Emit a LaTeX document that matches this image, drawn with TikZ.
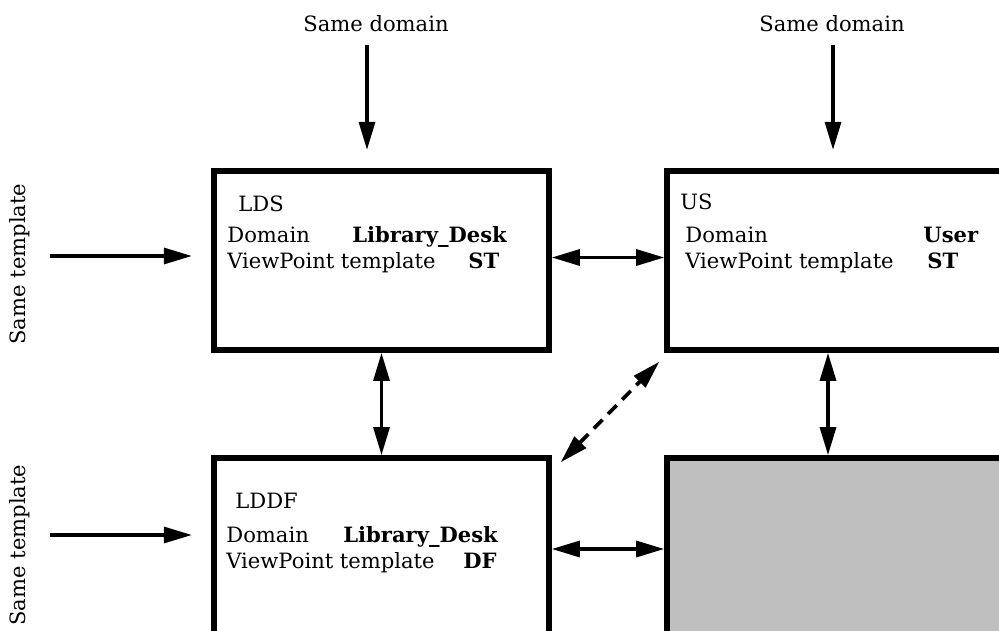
\documentclass[tikz,border=0pt]{standalone}
\usepackage{fontspec}
\setmainfont{DejaVu Serif}
\usetikzlibrary{shapes,arrows.meta,positioning}
\tikzstyle{vpbox} = [rectangle, draw, line width=3.1pt, inner sep=0pt]
\tikzstyle{line} = [draw, line width=2.1pt, -{Triangle[length=16pt,width=9pt]}]
\tikzstyle{dline} = [draw, line width=2.1pt, {Triangle[length=16pt,width=9pt]}-{Triangle[length=16pt,width=9pt]}]
\tikzstyle{txt} = [anchor=base west, inner sep=0pt, font=\fontsize{12}{14}\selectfont]
\tikzstyle{lbl} = [inner sep=2pt, font=\fontsize{12}{14}\selectfont]

\begin{document}
\begin{tikzpicture}[x=0.02cm, y=-0.02cm]
    \clip (0,0) rectangle (999,631);
    % the four viewpoints
    \node [vpbox, minimum width=6.70cm, minimum height=3.58cm] (LDS) at (381.5,260.5) {};
    \node [vpbox, minimum width=6.86cm, minimum height=3.58cm] (US) at (838.5,260.5) {};
    \node [vpbox, minimum width=6.70cm, minimum height=3.64cm] (LDDF) at (381.5,549) {};
    \node [vpbox, fill=black!25, minimum width=6.86cm, minimum height=3.64cm] (grey) at (838.5,549) {};
    % texts in the boxes
    \node [txt] (ldsName) at (238,212) {LDS};
    \node [txt] (ldsDom) at (227,242) {Domain};
    \node [txt] (ldsDomV) at (352,242) {\textbf{Library\_Desk}};
    \node [txt] (ldsTpl) at (227,268) {ViewPoint template};
    \node [txt] (ldsTplV) at (468,268) {\textbf{ST}};
    \node [txt] (usName) at (680,210) {US};
    \node [txt] (usDom) at (685,242) {Domain};
    \node [txt] (usDomV) at (923,242) {\textbf{User}};
    \node [txt] (usTpl) at (685,268) {ViewPoint template};
    \node [txt] (usTplV) at (927,268) {\textbf{ST}};
    \node [txt] (lddfName) at (235,508) {LDDF};
    \node [txt] (lddfDom) at (226,542) {Domain};
    \node [txt] (lddfDomV) at (343,542) {\textbf{Library\_Desk}};
    \node [txt] (lddfTpl) at (226,568) {ViewPoint template};
    \node [txt] (lddfTplV) at (463,568) {\textbf{DF}};
    % outside labels
    \node [lbl] (dom1) at (376,24) {Same domain};
    \node [lbl] (dom2) at (832,24) {Same domain};
    \node [lbl, rotate=90] (tpl1) at (20,264) {Same template};
    \node [lbl, rotate=90] (tpl2) at (20,545) {Same template};
    \coordinate (d1) at (367,150);
    \coordinate (d2) at (833,150);
    \coordinate (t1) at (192,256);
    \coordinate (t2) at (192,535);
    % connectors
    \path [line, shorten <=5pt] (dom1.south -| d1) -- (d1);
    \path [line, shorten <=5pt] (dom2.south -| d2) -- (d2);
    \path [line, shorten <=9pt] (tpl1.south |- t1) -- (t1);
    \path [line, shorten <=9pt] (tpl2.south |- t2) -- (t2);
    \path [dline] ([yshift=0.06cm]LDS.east) -- ([yshift=0.06cm]US.west);
    \path [dline] (LDDF.east) -- (grey.west);
    \path [dline] (LDS.south) -- (LDDF.north);
    \path [dline] ([xshift=-0.21cm]US.south) -- ([xshift=-0.21cm]grey.north);
    \path [dline, dash pattern=on 7pt off 4.5pt] ([shift={(9,7)}]LDDF.north east) -- ([shift={(-5,9)}]US.south west);
\end{tikzpicture}
\end{document}
